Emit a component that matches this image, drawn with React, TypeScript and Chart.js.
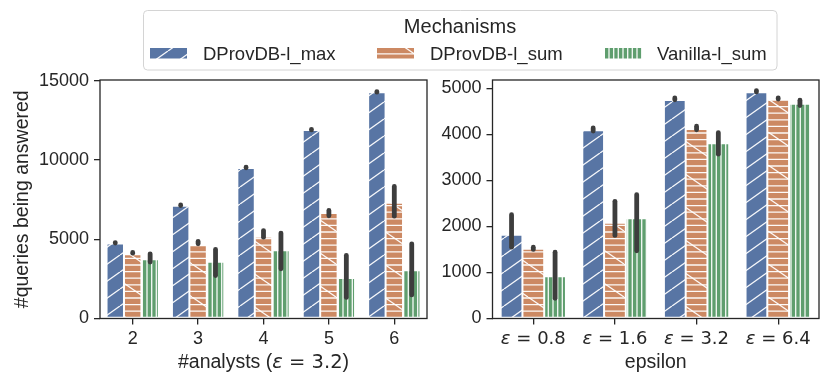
import React, { useEffect, useRef } from 'react';
import { Chart, registerables } from 'chart.js';

Chart.register(...registerables);

// ---------- data ----------
const analysts = ['2', '3', '4', '5', '6'];
const epsilons = ['0.8', '1.6', '3.2', '6.4'];
const seriesNames = ['DProvDB-l_max', 'DProvDB-l_sum', 'Vanilla-l_sum'];

const analystsMax = [4730, 7110, 9500, 11890, 14270];
const analystsSum = [4060, 4630, 5160, 6650, 7300];
const analystsVanilla = [3745, 3580, 4310, 2550, 3050];
const analystsMaxLo = [4760, 7130, 9510, 11900, 14280];
const analystsMaxHi = [4790, 7170, 9550, 11940, 14320];
const analystsSumLo = [4120, 4710, 5130, 6480, 6460];
const analystsSumHi = [4170, 4860, 5550, 6820, 8330];
const analystsVanillaLo = [3560, 2710, 3140, 1330, 1490];
const analystsVanillaHi = [4080, 4360, 5390, 3980, 4710];

const epsMax = [1820, 4090, 4745, 4915];
const epsSum = [1515, 2080, 4115, 4760];
const epsVanilla = [920, 2175, 3805, 4665];
const epsMaxLo = [1550, 4070, 4750, 4920];
const epsMaxHi = [2255, 4140, 4790, 4950];
const epsSumLo = [1500, 1805, 4100, 4765];
const epsSumHi = [1550, 2545, 4175, 4790];
const epsVanillaLo = [440, 1470, 3570, 4625];
const epsVanillaHi = [1440, 2690, 4035, 4740];

const analystsTicks = [0, 5000, 10000, 15000];
const epsTicks = [0, 1000, 2000, 3000, 4000, 5000];
const analystsYMax = 15050;
const epsYMax = 5180;

const leftXTitle = ['#analysts (', 'ε', ' = 3.2', ')'];
const rightXTitle = 'epsilon';
const yTitle = '#queries being answered';
const legendTitle = 'Mechanisms';

// ---------- style ----------
const W = 830;
const H = 384;
const FONT = '"Liberation Sans", Arial, sans-serif';
const MATH = '"DejaVu Sans", sans-serif';
const AXIS = '#262626';
const TEXT = '#262626';
const ERR = '#3d3d3d';
const BLUE = '#5875A4';
const ORANGE = '#CC8963';
const GREEN = '#5F9E6E';

function makePattern(kind: string): CanvasPattern | string {
  const c = document.createElement('canvas');
  let w = 24, h = 17;
  if (kind === 'orange') { w = 48; h = 33; }
  if (kind === 'green') { w = 14; h = 4; }
  c.width = w; c.height = h;
  const g = c.getContext('2d');
  if (!g) return BLUE;
  g.strokeStyle = 'rgba(255,255,255,0.95)';
  g.lineWidth = 1.3;
  if (kind === 'blue') {
    g.fillStyle = BLUE; g.fillRect(0, 0, w, h);
    for (const o of [-w, 0, w]) {
      g.beginPath(); g.moveTo(o, h); g.lineTo(o + w, 0); g.stroke();
    }
  } else if (kind === 'orange') {
    g.fillStyle = ORANGE; g.fillRect(0, 0, w, h);
    for (let k = 0; k < 5; k++) {
      const yy = k * (h / 5) + 1;
      g.beginPath(); g.moveTo(0, yy); g.lineTo(w, yy); g.stroke();
    }
    for (const o of [-w, 0, w]) {
      g.beginPath(); g.moveTo(o, 0); g.lineTo(o + w, h); g.stroke();
    }
  } else {
    g.fillStyle = GREEN; g.fillRect(0, 0, w, h);
    for (const xx of [2.3, 7, 11.7]) {
      g.beginPath(); g.moveTo(xx, 0); g.lineTo(xx, h); g.stroke();
    }
  }
  return g.createPattern(c, 'repeat') || BLUE;
}

type Seg = { text: string; font: string };

function drawSegs(ctx: CanvasRenderingContext2D, segs: Seg[], cx: number, y: number) {
  let total = 0;
  for (const s of segs) { ctx.font = s.font; total += ctx.measureText(s.text).width; }
  let x = cx - total / 2;
  ctx.textAlign = 'left';
  ctx.textBaseline = 'alphabetic';
  ctx.fillStyle = TEXT;
  for (const s of segs) {
    ctx.font = s.font;
    ctx.fillText(s.text, x, y);
    x += ctx.measureText(s.text).width;
  }
}

function framePlugin() {
  return {
    id: 'frame',
    afterDraw(chart: any) {
      const { ctx, chartArea: a } = chart;
      ctx.save();
      ctx.strokeStyle = AXIS;
      ctx.lineWidth = 1.3;
      ctx.strokeRect(a.left, a.top, a.right - a.left, a.bottom - a.top);
      ctx.restore();
    },
  };
}

function errPlugin(lo: number[][], hi: number[][]) {
  return {
    id: 'errbars',
    afterDatasetsDraw(chart: any) {
      const { ctx } = chart;
      const ys = chart.scales.y;
      ctx.save();
      ctx.strokeStyle = ERR;
      ctx.lineWidth = 4.8;
      ctx.lineCap = 'round';
      chart.data.datasets.forEach((_ds: any, i: number) => {
        const meta = chart.getDatasetMeta(i);
        meta.data.forEach((el: any, j: number) => {
          const y1 = ys.getPixelForValue(lo[i][j]);
          const y2 = ys.getPixelForValue(hi[i][j]);
          ctx.beginPath();
          ctx.moveTo(el.x, y1);
          ctx.lineTo(el.x, y2);
          ctx.stroke();
        });
      });
      ctx.restore();
    },
  };
}

function xTextPlugin(tickSegs: Seg[][], titleSegs: Seg[], tickBase: number, titleBase: number) {
  return {
    id: 'xtext',
    afterDraw(chart: any) {
      const { ctx, chartArea: a } = chart;
      const xs = chart.scales.x;
      ctx.save();
      tickSegs.forEach((segs, i) => drawSegs(ctx, segs, xs.getPixelForTick(i), tickBase));
      drawSegs(ctx, titleSegs, (a.left + a.right) / 2, titleBase);
      ctx.restore();
    },
  };
}

function yTitlePlugin() {
  return {
    id: 'ytitle',
    afterDraw(chart: any) {
      const { ctx, chartArea: a } = chart;
      ctx.save();
      ctx.translate(27.5, (a.top + a.bottom) / 2);
      ctx.rotate(-Math.PI / 2);
      ctx.font = `19.5px ${FONT}`;
      ctx.fillStyle = TEXT;
      ctx.textAlign = 'center';
      ctx.textBaseline = 'alphabetic';
      ctx.fillText(yTitle, 0, 0);
      ctx.restore();
    },
  };
}

function legendPlugin(patterns: (CanvasPattern | string)[]) {
  return {
    id: 'mylegend',
    afterDraw(chart: any) {
      const { ctx } = chart;
      ctx.save();
      const bx = 143.5, by = 10.5, bw = 633.5, bh = 59.5, r = 4;
      ctx.beginPath();
      ctx.moveTo(bx + r, by);
      ctx.lineTo(bx + bw - r, by);
      ctx.arcTo(bx + bw, by, bx + bw, by + r, r);
      ctx.lineTo(bx + bw, by + bh - r);
      ctx.arcTo(bx + bw, by + bh, bx + bw - r, by + bh, r);
      ctx.lineTo(bx + r, by + bh);
      ctx.arcTo(bx, by + bh, bx, by + bh - r, r);
      ctx.lineTo(bx, by + r);
      ctx.arcTo(bx, by, bx + r, by, r);
      ctx.closePath();
      ctx.fillStyle = 'rgba(255,255,255,0.9)';
      ctx.fill();
      ctx.strokeStyle = '#d4d4d4';
      ctx.lineWidth = 1;
      ctx.stroke();

      ctx.fillStyle = TEXT;
      ctx.font = `20px ${FONT}`;
      ctx.textAlign = 'center';
      ctx.textBaseline = 'alphabetic';
      ctx.fillText(legendTitle, 460, 33);

      const patchX = [150, 377, 605];
      const textX = [203, 430, 657];
      seriesNames.forEach((name, i) => {
        ctx.fillStyle = patterns[i];
        ctx.fillRect(patchX[i], 48, 37, 10.5);
        ctx.fillStyle = TEXT;
        ctx.font = `18.5px ${FONT}`;
        ctx.textAlign = 'left';
        ctx.fillText(name, textX[i], 60);
      });
      ctx.restore();
    },
  };
}

function yScale(max: number, ticks: number[], width: number) {
  return {
    min: 0,
    max,
    afterBuildTicks: (s: any) => { s.ticks = ticks.map((v) => ({ value: v })); },
    afterFit: (s: any) => { s.width = width; },
    grid: { drawOnChartArea: false, drawTicks: true, tickLength: 6, color: AXIS, lineWidth: 1.3 },
    border: { display: false },
    ticks: {
      font: { family: FONT, size: 18 },
      color: TEXT,
      padding: 5,
      callback: (v: any) => String(v),
    },
  };
}

function xScale() {
  return {
    type: 'category',
    offset: true,
    afterFit: (s: any) => { s.height = H - 318.5; },
    grid: { drawOnChartArea: false, drawTicks: true, tickLength: 6, color: AXIS, lineWidth: 1.3, offset: false },
    border: { display: false },
    ticks: { display: false },
  };
}

function datasets(vals: number[][], patterns: (CanvasPattern | string)[]) {
  return vals.map((v, i) => ({
    label: seriesNames[i],
    data: v,
    backgroundColor: patterns[i],
    borderColor: 'rgba(255,255,255,0.9)',
    borderWidth: 1,
    borderSkipped: false,
    categoryPercentage: 0.8,
    barPercentage: 1.0,
  }));
}

export default function App() {
  const leftRef = useRef<HTMLCanvasElement>(null);
  const rightRef = useRef<HTMLCanvasElement>(null);

  useEffect(() => {
    if (!leftRef.current || !rightRef.current) return;
    const patterns = [makePattern('blue'), makePattern('orange'), makePattern('green')];
    const tickFont = `18px ${FONT}`;
    const mathFont = `18px ${MATH}`;
    const mathItalic = `italic 18px ${MATH}`;
    const titleFont = `19.5px ${FONT}`;
    const titleMath = `19.5px ${MATH}`;
    const titleMathItalic = `italic 19.5px ${MATH}`;

    const left = new Chart(leftRef.current, {
      type: 'bar',
      data: { labels: analysts, datasets: datasets([analystsMax, analystsSum, analystsVanilla], patterns) as any },
      options: {
        responsive: false,
        animation: false,
        devicePixelRatio: 1,
        events: [],
        layout: { padding: { left: 0, right: W - 427, top: 80, bottom: 0 } },
        plugins: { legend: { display: false }, tooltip: { enabled: false } },
        scales: { x: xScale() as any, y: yScale(analystsYMax, analystsTicks, 100) as any },
      },
      plugins: [
        errPlugin(
          [analystsMaxLo, analystsSumLo, analystsVanillaLo],
          [analystsMaxHi, analystsSumHi, analystsVanillaHi],
        ),
        xTextPlugin(
          analysts.map((a) => [{ text: a, font: tickFont }]),
          [
            { text: leftXTitle[0], font: titleFont },
            { text: leftXTitle[1], font: titleMathItalic },
            { text: leftXTitle[2], font: titleMath },
            { text: leftXTitle[3], font: titleFont },
          ],
          344,
          368,
        ),
        yTitlePlugin(),
        legendPlugin(patterns),
        framePlugin(),
      ],
    });

    const right = new Chart(rightRef.current, {
      type: 'bar',
      data: { labels: epsilons, datasets: datasets([epsMax, epsSum, epsVanilla], patterns) as any },
      options: {
        responsive: false,
        animation: false,
        devicePixelRatio: 1,
        events: [],
        layout: { padding: { left: 432.5, right: W - 819, top: 80, bottom: 0 } },
        plugins: { legend: { display: false }, tooltip: { enabled: false } },
        scales: { x: xScale() as any, y: yScale(epsYMax, epsTicks, 60) as any },
      },
      plugins: [
        errPlugin([epsMaxLo, epsSumLo, epsVanillaLo], [epsMaxHi, epsSumHi, epsVanillaHi]),
        xTextPlugin(
          epsilons.map((e) => [
            { text: 'ε', font: mathItalic },
            { text: ' = ' + e, font: mathFont },
          ]),
          [{ text: rightXTitle, font: titleFont }],
          344,
          367.5,
        ),
        framePlugin(),
      ],
    });

    return () => {
      left.destroy();
      right.destroy();
    };
  }, []);

  return (
    <div style={{ position: 'absolute', left: 0, top: 0, width: W, height: H, background: '#fff' }}>
      <canvas ref={leftRef} width={W} height={H} style={{ position: 'absolute', left: 0, top: 0 }} />
      <canvas ref={rightRef} width={W} height={H} style={{ position: 'absolute', left: 0, top: 0 }} />
    </div>
  );
}
